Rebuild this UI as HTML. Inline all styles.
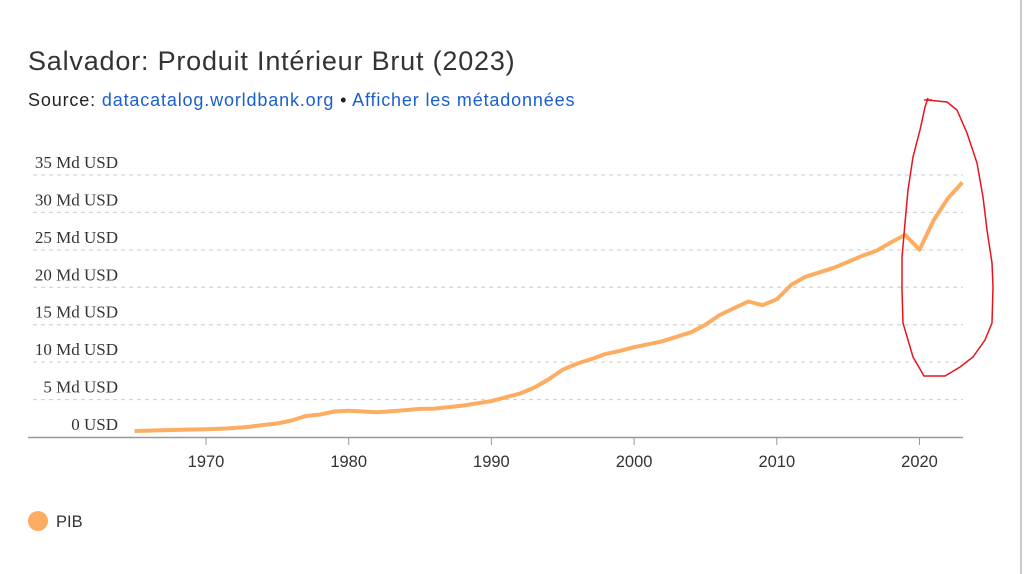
<!DOCTYPE html>
<html><head><meta charset="utf-8"><style>
body{margin:0;background:#fff;width:1024px;height:574px;overflow:hidden;position:relative;font-family:"Liberation Sans",Arial,sans-serif}
.t{position:absolute;left:28px;top:46px;font-size:27px;letter-spacing:0.8px;color:#333}
.s{position:absolute;left:28px;top:90px;font-size:18px;letter-spacing:0.85px;color:#222}
.s a{color:#1a5fd0;text-decoration:none}
svg{position:absolute;left:0;top:0}
</style></head><body>
<div class="t">Salvador: Produit Intérieur Brut (2023)</div>
<div class="s">Source: <a>datacatalog.worldbank.org</a> • <a>Afficher les métadonnées</a></div>
<svg width="1024" height="574" id="c">
<line x1="1021" y1="0" x2="1021" y2="574" stroke="#ccc" stroke-width="2"/>
<g id="grid" stroke="#ccc" stroke-dasharray="4,4" stroke-width="1"></g>
<g id="lab" font-family="Liberation Serif,serif" font-size="17" fill="#333" text-anchor="end"></g>
<line x1="28" y1="437.5" x2="963" y2="437.5" stroke="#999" stroke-width="1.5"/>
<g id="xt" font-size="16.5" fill="#333" text-anchor="middle"></g>
<polyline id="ln" fill="none" stroke="#fdad62" stroke-width="4" stroke-linejoin="round"/>
<path d="M928,98 L927,100 L947,102 L957,110 L967,133 L977,163 L983,197 L987,230 L992,263 L993,287 L992,323 L985,340 L973,357 L960,367 L945,376 L924,376 L913,357 L903,323 L902,290 L902,257 L905,223 L908,190 L913,157 L920,130 L925,107 L928,98 M924,100 L932,100" fill="none" stroke="#e8141c" stroke-width="1.5"/>
<circle cx="38" cy="521" r="10" fill="#fdad62"/>
<text x="56" y="527" font-size="16.5" fill="#333">PIB</text>
</svg>
<script>
var ns="http://www.w3.org/2000/svg";
function Y(v){return 437-v*7.486;}
var g=document.getElementById('grid'),l=document.getElementById('lab');
for(var i=0;i<=7;i++){var y=Y(i*5);
 if(i>0){var e=document.createElementNS(ns,'line');e.setAttribute('x1',33);e.setAttribute('x2',963);e.setAttribute('y1',y);e.setAttribute('y2',y);g.appendChild(e);}
 var t=document.createElementNS(ns,'text');t.setAttribute('x',118);t.setAttribute('y',y-7);t.textContent=i==0?'0 USD':(i*5)+' Md USD';l.appendChild(t);}
var xt=document.getElementById('xt');
function X(yr){return 206+(yr-1970)*14.27;}
for(var yr=1970;yr<=2020;yr+=10){var x=X(yr);
 var e=document.createElementNS(ns,'line');e.setAttribute('x1',x);e.setAttribute('x2',x);e.setAttribute('y1',437);e.setAttribute('y2',445);e.setAttribute('stroke','#999');xt.appendChild(e);
 var t=document.createElementNS(ns,'text');t.setAttribute('x',x);t.setAttribute('y',467);t.textContent=yr;xt.appendChild(t);}
var d=[0.8,0.85,0.9,0.95,1.0,1.03,1.1,1.2,1.35,1.6,1.8,2.2,2.8,3.0,3.4,3.5,3.4,3.3,3.45,3.6,3.75,3.8,4.0,4.2,4.5,4.8,5.3,5.8,6.6,7.7,9.0,9.8,10.4,11.1,11.5,12.0,12.4,12.8,13.4,14.0,15.0,16.3,17.2,18.1,17.6,18.4,20.3,21.4,22.0,22.6,23.4,24.2,24.9,26.0,27.0,25.0,29.0,31.9,34.0];
var p=d.map(function(v,i){return X(1965+i).toFixed(1)+','+Y(v).toFixed(1)}).join(' ');
document.getElementById('ln').setAttribute('points',p);
</script>
</body></html>
